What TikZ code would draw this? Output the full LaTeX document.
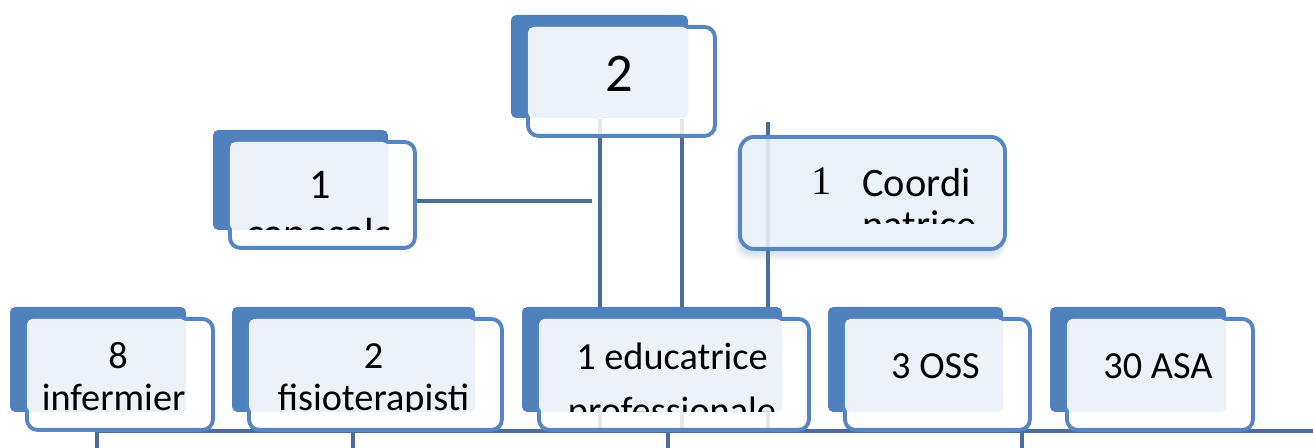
\documentclass[tikz,border=0pt]{standalone}
\usepackage{fontspec}
\setmainfont{Carlito}
\newfontfamily\serifdigit{Liberation Serif}
\usetikzlibrary{backgrounds}
\definecolor{boxblue}{HTML}{4F81BD}
\definecolor{edgeblue}{HTML}{5585C2}
\definecolor{linkblue}{HTML}{4A6D9E}
\definecolor{paleblue}{HTML}{EDF1F8}
\definecolor{coordfill}{HTML}{F3F6FB}
\tikzset{
  shadowbox/.style={fill=boxblue, rounded corners=3pt},
  frontbox/.style={draw=edgeblue, line width=2.2pt, fill=white, fill opacity=0.85,
    rounded corners=6pt, inner sep=0pt, anchor=north west},
  palefill/.style={fill=paleblue, rounded corners=3pt},
  link/.style={draw=linkblue, line width=2.3pt},
  staff/.style={align=center, inner sep=0pt, anchor=base, font=\fontsize{21.8}{24.4}\selectfont},
  widestaff/.style={staff, font=\fontsize{21.8}{31}\selectfont},
  bigstaff/.style={staff, font=\fontsize{31}{36}\selectfont},
  headstaff/.style={staff, font=\fontsize{24}{28}\selectfont},
}
% shadow corner x1,y1,x2,y2 (pixels), baseline of last line below front top, text
\newcommand{\staffbox}[8][staff]{%
  \fill[shadowbox] (#3,#4) rectangle (#5,#6);
  \node[frontbox, minimum width={(#5-#3+10)*0.02cm}, minimum height={(#6-#4+6)*0.02cm}]
    (#2) at (#3+15,#4+10) {};
  \fill[palefill] (#3+17,#4+12) rectangle (#5,#6);
  \begin{scope}
    \clip (#3+17,#4+12) rectangle (#5,#6);
    \node[#1] (#2-text) at ({(#3+#5)/2+20},{#4+10+#7}) {#8};
  \end{scope}
}
\begin{document}
\begin{tikzpicture}[x=0.02cm, y=-0.02cm]
  \useasboundingbox (0,0) rectangle (1313,448);

  % upper level
  \staffbox[bigstaff]{head}{511}{15}{688}{118}{67}{2}
  \staffbox[headstaff]{capo}{213}{130}{388}{230}{108}{1\\caposala}

  % coordinatrice, with soft glow
  \foreach \d in {2,4,...,14}
    \fill[boxblue, opacity=0.06, rounded corners=8pt] (741-\d*0.4,140) rectangle (1000+\d*0.4,246+\d);
  \node[draw=edgeblue, line width=2.2pt, fill=coordfill, fill opacity=0.85, rounded corners=8pt,
    minimum width=265*0.02cm, minimum height=112*0.02cm, anchor=north west] (coord) at (738,135) {};
  \begin{scope}
    \clip (740,137) rectangle (1001,224);
    \node[anchor=base east, inner sep=0pt, font=\fontsize{23}{24.4}\selectfont\serifdigit] (coord-num) at (832,195) {1};
    \node[anchor=base west, align=left, inner sep=0pt, font=\fontsize{23}{24.4}\selectfont] (coord-text) at (862,239) {Coordi\\natrice};
  \end{scope}

  % lower level
  \staffbox{infer}{10}{307}{186}{412}{94}{8\\infermieri}
  \staffbox{fisio}{232}{307}{475}{412}{94}{2\\fisioterapisti}
  \staffbox[widestaff]{educ}{522}{307}{782}{412}{107}{1 educatrice\\professionale}
  \staffbox{oss}{828}{307}{1003}{412}{62}{3 OSS}
  \staffbox{asa}{1050}{307}{1226}{412}{62}{30 ASA}

  % connectors
  \begin{pgfonlayer}{background}
    \coordinate (capoend) at (592,201);
    \coordinate (leftdrop) at (600,119);
    \coordinate (rightdrop) at (682,119);
    \coordinate (coordline) at (768,122);
    \coordinate (buswest) at (97,431);
    \coordinate (buseast) at (1313,431);
    \draw[link] (capo.east |- capoend) -- (capoend);
    \draw[link] (leftdrop) -- (leftdrop |- buswest);
    \draw[link] (rightdrop) -- (rightdrop |- buswest);
    \draw[link] (coordline) -- (coordline |- buswest);
    \draw[link] (buswest) -- (buseast);
    \foreach \x in {97,353,668,1022} {
      \coordinate (bus\x) at (\x,431);
      \coordinate (end\x) at (\x,448);
      \draw[link] (bus\x) -- (end\x);
    }
  \end{pgfonlayer}
\end{tikzpicture}
\end{document}
